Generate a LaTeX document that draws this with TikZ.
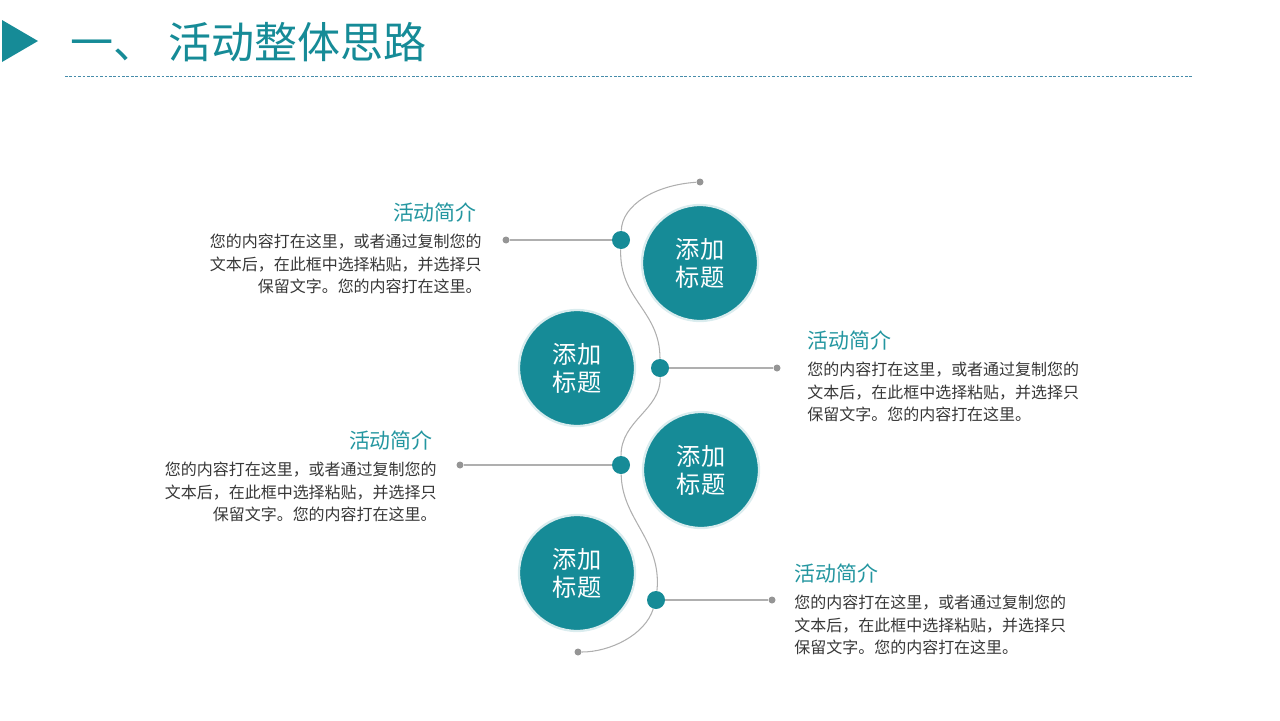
\documentclass[tikz,border=0pt]{standalone}
\usepackage{fontspec}
\setmainfont{Noto Sans CJK SC}
\definecolor{ThemeTeal}{RGB}{22,139,151}
\definecolor{HeadTeal}{RGB}{36,150,160}
\definecolor{RuleBlue}{RGB}{70,140,170}
\definecolor{LineGray}{RGB}{175,175,175}
\definecolor{BodyGray}{RGB}{55,55,55}
\usetikzlibrary{positioning}

\begin{document}
\begin{tikzpicture}[x=0.02cm,y=-0.02cm,
      bigc/.style={circle,fill=ThemeTeal,draw=ThemeTeal!16,line width=1.3pt,minimum size=2.32cm,
                   inner sep=0pt,text=white,align=center,font=\fontsize{13.8}{16}\selectfont},
      knot/.style={circle,fill=ThemeTeal,minimum size=0.36cm,inner sep=0pt},
      tip/.style={circle,fill=LineGray!85!black,minimum size=0.14cm,inner sep=0pt},
      ln/.style={draw=LineGray,line width=0.6pt},
      head/.style={text=HeadTeal,font=\fontsize{11.9}{14}\selectfont,inner sep=0pt},
      body/.style={text=BodyGray,font=\fontsize{9.1}{13}\selectfont,inner sep=0pt}]
    \useasboundingbox (0,0) rectangle (1280,720);
    % title bar
    \fill[ThemeTeal] (2,20) -- (38,41) -- (2,62) -- cycle;
    \node[font=\fontsize{24.5}{28}\selectfont,text=ThemeTeal,anchor=west,inner sep=0pt] (title) at (70,42) {一、\hspace{0.24cm}活动整体思路};
    \draw[RuleBlue,line width=0.5pt,dash pattern=on 1.5pt off 1pt] (65,76) -- (1192,76);
    % big circles
    \node[bigc] (c1) at (700,263) {添加\\标题};
    \node[bigc] (c2) at (577,368) {添加\\标题};
    \node[bigc] (c3) at (701,470) {添加\\标题};
    \node[bigc] (c4) at (577,573) {添加\\标题};
    % knots on the wave and line ends
    \node[knot] (k1) at (621,240) {};
    \node[knot] (k2) at (660,368) {};
    \node[knot] (k3) at (621,465) {};
    \node[knot] (k4) at (656,600) {};
    \node[tip] (t0) at (700,182) {};
    \node[tip] (t1) at (506,240) {};
    \node[tip] (t2) at (777,368) {};
    \node[tip] (t3) at (460,465) {};
    \node[tip] (t4) at (772,600) {};
    \node[tip] (t5) at (578,652) {};
    % wave
    \draw[ln] (t0) .. controls (655,185) and (622,205) .. (k1);
    \draw[ln] (k1) .. controls (619,300) and (660,310) .. (k2);
    \draw[ln] (k2) .. controls (661,410) and (621,420) .. (k3);
    \draw[ln] (k3) .. controls (622,520) and (662,540) .. (k4);
    \draw[ln] (k4) .. controls (645,635) and (610,652) .. (t5);
    \foreach \x/\y in {k1/t1,k2/t2,k3/t3,k4/t4}
      \draw[ln] (\x) -- (\y);
    % texts
    \node[body,anchor=east,align=right] (b1) at (482,264) {您的内容打在这里，或者通过复制您的\\文本后，在此框中选择粘贴，并选择只\\保留文字。您的内容打在这里。};
    \node[head,above left=0.21cm and 0.1cm of b1.north east] (h1) {活动简介};
    \node[body,anchor=west,align=left] (b2) at (807,392) {您的内容打在这里，或者通过复制您的\\文本后，在此框中选择粘贴，并选择只\\保留文字。您的内容打在这里。};
    \node[head,above right=0.21cm and 0cm of b2.north west] (h2) {活动简介};
    \node[body,anchor=east,align=right] (b3) at (437,492) {您的内容打在这里，或者通过复制您的\\文本后，在此框中选择粘贴，并选择只\\保留文字。您的内容打在这里。};
    \node[head,above left=0.21cm and 0.08cm of b3.north east] (h3) {活动简介};
    \node[body,anchor=west,align=left] (b4) at (794,625) {您的内容打在这里，或者通过复制您的\\文本后，在此框中选择粘贴，并选择只\\保留文字。您的内容打在这里。};
    \node[head,above right=0.21cm and 0cm of b4.north west] (h4) {活动简介};
  \end{tikzpicture}
\end{document}
